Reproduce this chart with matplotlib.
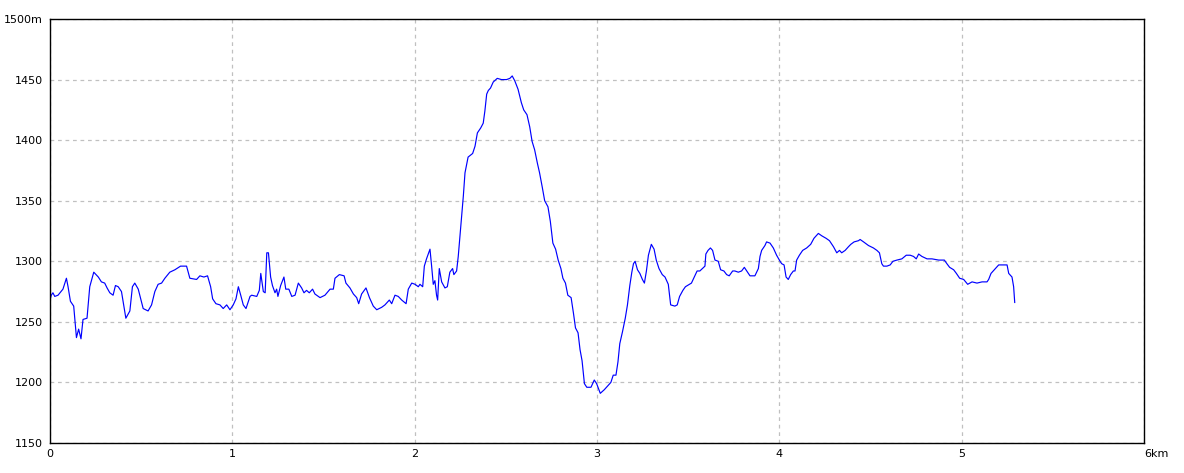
import matplotlib
matplotlib.use("Agg")
import matplotlib.pyplot as plt

# distance (km) and elevation (m)
dist_km = [
    0.0, 0.007, 0.016, 0.026, 0.044, 0.071, 0.09, 0.099, 0.112, 0.13,
    0.145, 0.157, 0.17, 0.181, 0.203, 0.218, 0.24, 0.265, 0.282, 0.3,
    0.313, 0.328, 0.346, 0.359, 0.374, 0.392, 0.416, 0.438, 0.452, 0.465,
    0.484, 0.511, 0.538, 0.557, 0.575, 0.593, 0.612, 0.63, 0.657, 0.685,
    0.716, 0.749, 0.767, 0.804, 0.822, 0.844, 0.864, 0.881, 0.892, 0.91,
    0.932, 0.95, 0.969, 0.987, 1.005, 1.02, 1.033, 1.046, 1.06, 1.075,
    1.097, 1.106, 1.134, 1.148, 1.156, 1.17, 1.18, 1.189, 1.198, 1.21,
    1.22, 1.234, 1.243, 1.25, 1.265, 1.283, 1.293, 1.31, 1.326, 1.344,
    1.362, 1.38, 1.393, 1.407, 1.422, 1.44, 1.453, 1.481, 1.508, 1.536,
    1.554, 1.563, 1.587, 1.613, 1.623, 1.645, 1.664, 1.682, 1.693, 1.709,
    1.733, 1.752, 1.773, 1.792, 1.819, 1.837, 1.861, 1.874, 1.892, 1.91,
    1.929, 1.953, 1.965, 1.984, 2.002, 2.02, 2.029, 2.044, 2.053, 2.065,
    2.084, 2.093, 2.102, 2.111, 2.12, 2.126, 2.135, 2.148, 2.166, 2.179,
    2.193, 2.208, 2.215, 2.23, 2.239, 2.248, 2.257, 2.267, 2.276, 2.285,
    2.293, 2.318, 2.331, 2.344, 2.362, 2.376, 2.385, 2.395, 2.404, 2.416,
    2.431, 2.453, 2.476, 2.504, 2.522, 2.535, 2.549, 2.567, 2.585, 2.598,
    2.616, 2.631, 2.644, 2.658, 2.673, 2.685, 2.7, 2.713, 2.731, 2.744,
    2.758, 2.773, 2.787, 2.802, 2.813, 2.827, 2.84, 2.858, 2.871, 2.882,
    2.896, 2.907, 2.918, 2.931, 2.944, 2.967, 2.985, 2.998, 3.018, 3.04,
    3.076, 3.089, 3.104, 3.115, 3.125, 3.14, 3.155, 3.167, 3.18, 3.191,
    3.2, 3.209, 3.222, 3.235, 3.249, 3.26, 3.271, 3.282, 3.298, 3.313,
    3.325, 3.34, 3.358, 3.373, 3.391, 3.404, 3.427, 3.44, 3.453, 3.471,
    3.485, 3.518, 3.537, 3.549, 3.564, 3.592, 3.597, 3.609, 3.622, 3.634,
    3.647, 3.665, 3.678, 3.696, 3.711, 3.725, 3.744, 3.756, 3.775, 3.793,
    3.808, 3.821, 3.839, 3.866, 3.885, 3.894, 3.903, 3.921, 3.93, 3.949,
    3.967, 3.985, 4.004, 4.013, 4.026, 4.037, 4.049, 4.062, 4.077, 4.086,
    4.095, 4.11, 4.128, 4.15, 4.172, 4.19, 4.214, 4.233, 4.256, 4.275,
    4.297, 4.315, 4.33, 4.342, 4.361, 4.379, 4.392, 4.41, 4.434, 4.443,
    4.462, 4.489, 4.516, 4.535, 4.549, 4.562, 4.571, 4.59, 4.608, 4.623,
    4.645, 4.672, 4.696, 4.718, 4.736, 4.751, 4.764, 4.782, 4.81, 4.837,
    4.874, 4.905, 4.919, 4.934, 4.956, 4.971, 4.989, 5.011, 5.033, 5.057,
    5.084, 5.112, 5.139, 5.148, 5.161, 5.179, 5.203, 5.221, 5.249, 5.258,
    5.276, 5.285, 5.291,
]
elev_m = [
    1268, 1272, 1274, 1271, 1272, 1277, 1286, 1279, 1267, 1263,
    1237, 1244, 1236, 1252, 1253, 1279, 1291, 1287, 1283, 1282,
    1278, 1274, 1272, 1280, 1279, 1275, 1253, 1259, 1279, 1282,
    1277, 1261, 1259, 1264, 1275, 1281, 1282, 1286, 1291, 1293,
    1296, 1296, 1286, 1285, 1288, 1287, 1288, 1279, 1269, 1265,
    1264, 1261, 1264, 1260, 1264, 1269, 1279, 1272, 1264, 1261,
    1271, 1272, 1271, 1276, 1290, 1275, 1274, 1307, 1307, 1287,
    1280, 1274, 1277, 1271, 1280, 1287, 1277, 1277, 1271, 1272,
    1282, 1278, 1274, 1276, 1274, 1277, 1273, 1270, 1272, 1277,
    1277, 1286, 1289, 1288, 1282, 1278, 1273, 1270, 1265, 1273,
    1278, 1270, 1263, 1260, 1262, 1264, 1268, 1265, 1272, 1271,
    1268, 1265, 1277, 1282, 1281, 1279, 1281, 1279, 1296, 1302,
    1310, 1296, 1281, 1284, 1272, 1268, 1294, 1283, 1278, 1279,
    1291, 1294, 1289, 1292, 1304, 1320, 1337, 1354, 1373, 1380,
    1386, 1389, 1395, 1406, 1410, 1414, 1424, 1438, 1441, 1443,
    1448, 1451, 1450, 1450, 1451, 1453, 1449, 1442, 1431, 1425,
    1421, 1411, 1399, 1392, 1381, 1373, 1361, 1350, 1345, 1333,
    1315, 1310, 1301, 1294, 1286, 1282, 1272, 1270, 1257, 1245,
    1241, 1227, 1218, 1199, 1196, 1196, 1202, 1199, 1191, 1194,
    1200, 1206, 1206, 1217, 1232, 1242, 1253, 1264, 1280, 1291,
    1298, 1300, 1293, 1290, 1285, 1282, 1292, 1305, 1314, 1310,
    1301, 1294, 1289, 1287, 1281, 1264, 1263, 1264, 1271, 1276,
    1279, 1282, 1288, 1292, 1292, 1296, 1306, 1309, 1311, 1309,
    1301, 1300, 1293, 1292, 1289, 1288, 1292, 1292, 1291, 1292,
    1295, 1292, 1288, 1288, 1294, 1304, 1309, 1313, 1316, 1315,
    1311, 1305, 1300, 1298, 1297, 1287, 1285, 1289, 1292, 1292,
    1301, 1305, 1309, 1311, 1314, 1319, 1323, 1321, 1319, 1317,
    1312, 1307, 1309, 1307, 1309, 1312, 1314, 1316, 1317, 1318,
    1316, 1313, 1311, 1309, 1307, 1298, 1296, 1296, 1297, 1300,
    1301, 1302, 1305, 1305, 1304, 1302, 1306, 1304, 1302, 1302,
    1301, 1301, 1298, 1295, 1293, 1290, 1286, 1285, 1281, 1283,
    1282, 1283, 1283, 1285, 1290, 1293, 1297, 1297, 1297, 1290,
    1287, 1279, 1266,
]

x_ticks = [0, 1, 2, 3, 4, 5, 6]
x_labels = ["0", "1", "2", "3", "4", "5", "6km"]
y_ticks = [1150, 1200, 1250, 1300, 1350, 1400, 1450, 1500]
y_labels = ["1150", "1200", "1250", "1300", "1350", "1400", "1450", "1500m"]

fig = plt.figure(figsize=(11.84, 4.73), dpi=100)
ax = fig.add_axes([50 / 1184, 30 / 473, 1094 / 1184, 424 / 473])

ax.plot(dist_km, elev_m, color="#0000ff", linewidth=0.85)

ax.set_xlim(0, 6)
ax.set_ylim(1150, 1500)
ax.set_xticks(x_ticks)
ax.set_xticklabels(x_labels)
ax.set_yticks(y_ticks)
ax.set_yticklabels(y_labels)
ax.tick_params(length=0, labelsize=8, colors="black")
ax.tick_params(axis="y", pad=5)
ax.tick_params(axis="x", pad=4)
ax.get_xticklabels()[-1].set_horizontalalignment("left")
ax.get_xticklabels()[-1].set_x(5.985)

ax.grid(True, color="#c0c0c0", linestyle=(0, (3, 3)), linewidth=0.9)
for s in ax.spines.values():
    s.set_color("black")
    s.set_linewidth(1.0)

fig.savefig("out.png", dpi=100)
